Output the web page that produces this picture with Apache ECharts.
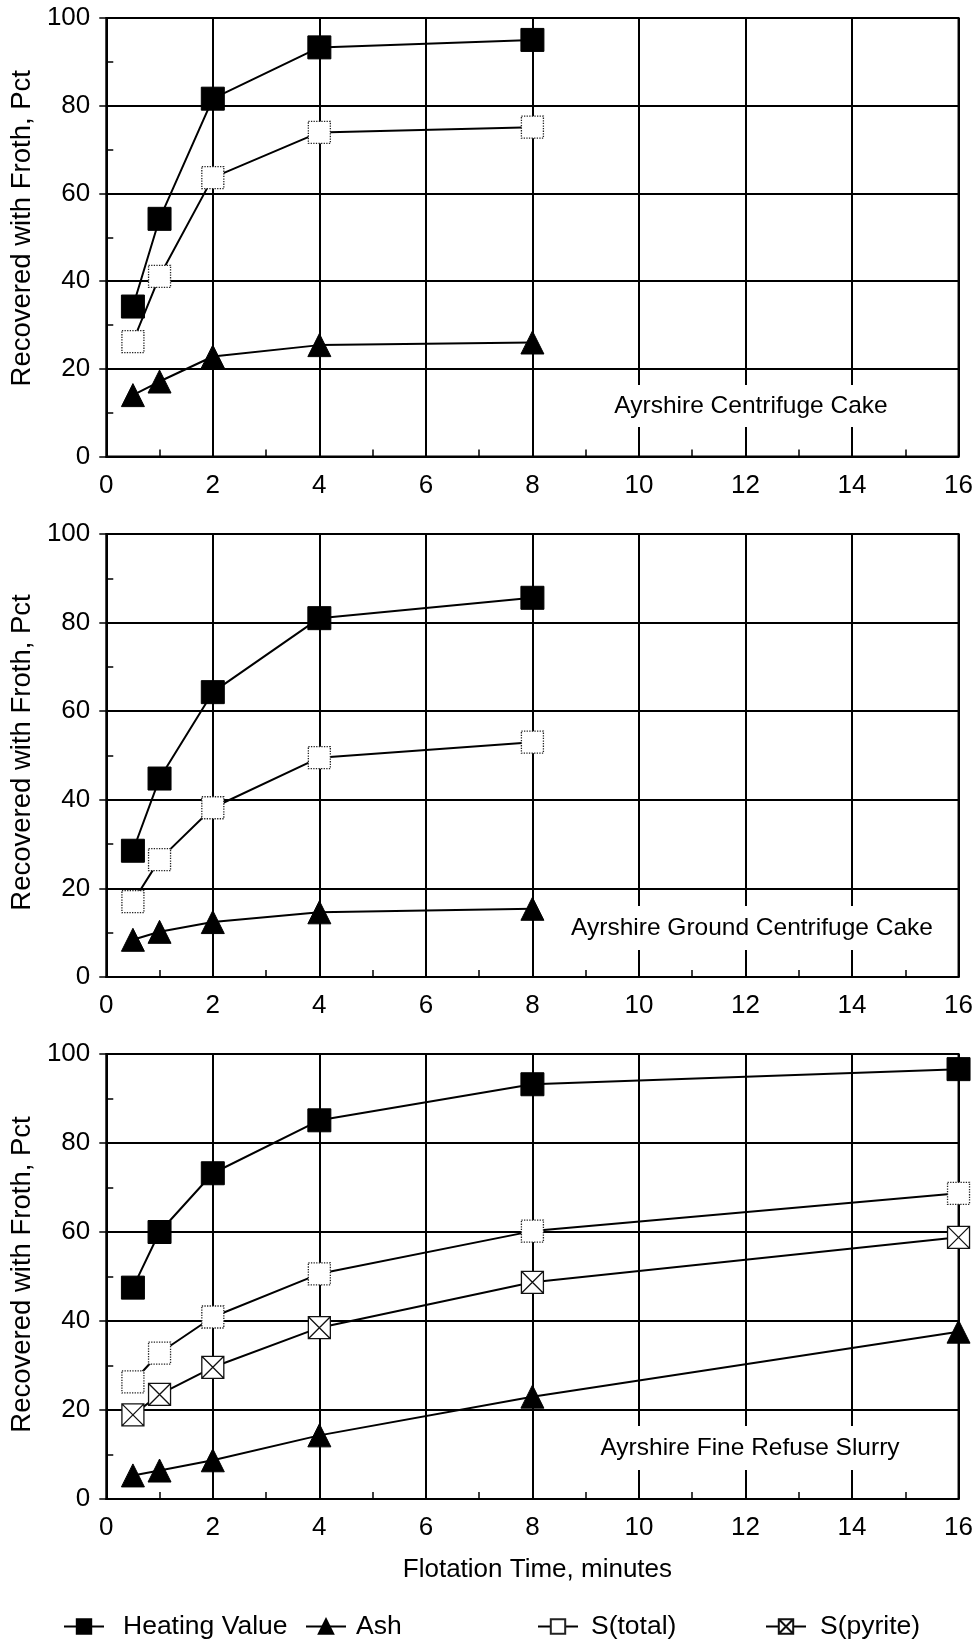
<!DOCTYPE html>
<html>
<head>
<meta charset="utf-8">
<script src="https://cdn.jsdelivr.net/npm/echarts@6/dist/echarts.min.js"></script>
<style>
html,body{margin:0;padding:0;background:#fff;}
#chart{width:976px;height:1642px;}
</style>
</head>
<body>
<div id="chart"></div>
<script>
// ---- data ----
const timesA = [0.5, 1, 2, 4, 8];
const timesB = [0.5, 1, 2, 4, 8, 16];
const xTicks = [0, 2, 4, 6, 8, 10, 12, 14, 16];
const yTicks = [0, 20, 40, 60, 80, 100];

const p1Heating = [34.2, 54.2, 81.6, 93.3, 95.0];
const p1Ash     = [14.0, 17.1, 22.8, 25.4, 26.0];
const p1STotal  = [26.2, 41.1, 63.6, 73.9, 75.1];

const p2Heating = [28.5, 44.8, 64.3, 81.0, 85.6];
const p2Ash     = [8.4, 10.2, 12.4, 14.6, 15.4];
const p2STotal  = [17.0, 26.5, 38.2, 49.5, 53.0];

const p3Heating = [47.5, 60.0, 73.2, 85.1, 93.2, 96.6];
const p3Ash     = [5.3, 6.4, 8.7, 14.3, 23.0, 37.6];
const p3STotal  = [26.3, 32.8, 40.9, 50.6, 60.2, 68.7];
const p3SPyrite = [18.9, 23.5, 29.6, 38.5, 48.7, 58.8];

const panelLabels = ['Ayrshire Centrifuge Cake', 'Ayrshire Ground Centrifuge Cake', 'Ayrshire Fine Refuse Slurry'];
const yTitle = 'Recovered with Froth, Pct';
const xTitle = 'Flotation Time, minutes';
const seriesNames = ['Heating Value', 'Ash', 'S(total)', 'S(pyrite)'];

// ---- styling ----
const FONT = 'Liberation Sans, Arial, sans-serif';
const pyritePath = 'path://M0,0 L10,0 L10,10 L0,10 Z M0,0 L10,10 M10,0 L0,10';
const styleFor = {
  'Heating Value': {symbol: 'rect', symbolSize: 23, itemStyle: {color: '#000', borderColor: '#000', borderWidth: 1}},
  'Ash': {symbol: 'triangle', symbolSize: 23, itemStyle: {color: '#000', borderColor: '#000', borderWidth: 1}},
  'S(total)': {symbol: 'rect', symbolSize: 22, itemStyle: {color: '#fff', borderColor: '#222', borderWidth: 1.3, borderType: 'dotted'}},
  'S(pyrite)': {symbol: pyritePath, symbolSize: 22, itemStyle: {color: '#fff', borderColor: '#111', borderWidth: 1.3}}
};

const grids = [
  {left: 102, right: 15, top: 18, height: 438.5, show: true, borderColor: '#000', borderWidth: 2},
  {left: 102, right: 15, top: 534, height: 443, show: true, borderColor: '#000', borderWidth: 2},
  {left: 102, right: 15, top: 1054, height: 445, show: true, borderColor: '#000', borderWidth: 2}
];

function xAxis(i) {
  return {
    type: 'value', gridIndex: i, min: xTicks[0], max: xTicks[xTicks.length - 1], interval: xTicks[1] - xTicks[0],
    axisLine: {show: true, lineStyle: {color: '#000', width: 2}},
    axisTick: {show: true, inside: true, length: 7, lineStyle: {color: '#000', width: 1.5}},
    minorTick: {show: true, splitNumber: 2, length: 7, lineStyle: {color: '#000', width: 1.5}},
    splitLine: {show: true, lineStyle: {color: '#000', width: 2}},
    axisLabel: {color: '#000', fontSize: 26, fontFamily: FONT, margin: 16},
    name: i === 2 ? xTitle : '', nameLocation: 'middle', nameGap: 58,
    nameTextStyle: {color: '#000', fontSize: 26, fontFamily: FONT, padding: [0, 0, 0, 10]}
  };
}
const yNamePad = [[0, 0, 0, 18], [0, 0, 0, 6], [0, 0, 0, 4]];
function yAxis(i) {
  return {
    type: 'value', gridIndex: i, min: yTicks[0], max: yTicks[yTicks.length - 1], interval: yTicks[1] - yTicks[0],
    axisLine: {show: true, lineStyle: {color: '#000', width: 2}},
    axisTick: {show: true, inside: false, length: 7, lineStyle: {color: '#000', width: 1.5}},
    minorTick: {show: true, splitNumber: 2, length: -7, lineStyle: {color: '#000', width: 1.5}},
    splitLine: {show: true, lineStyle: {color: '#000', width: 2}},
    axisLabel: {color: '#000', fontSize: 26, fontFamily: FONT, margin: 16},
    name: yTitle, nameLocation: 'middle', nameGap: 58,
    nameTextStyle: {color: '#000', fontSize: 27.5, fontFamily: FONT, padding: yNamePad[i]}
  };
}

function makeSeries(name, gi, xs, ys) {
  const st = styleFor[name];
  return Object.assign({
    type: 'line', name: name, xAxisIndex: gi, yAxisIndex: gi,
    data: xs.map((x, k) => [x, ys[k]]),
    lineStyle: {color: '#000', width: 2},
    showSymbol: true, animation: false, z: 3
  }, st);
}

const series = [
  makeSeries('S(total)', 0, timesA, p1STotal),
  makeSeries('Heating Value', 0, timesA, p1Heating),
  makeSeries('Ash', 0, timesA, p1Ash),
  makeSeries('S(total)', 1, timesA, p2STotal),
  makeSeries('Heating Value', 1, timesA, p2Heating),
  makeSeries('Ash', 1, timesA, p2Ash),
  makeSeries('S(total)', 2, timesB, p3STotal),
  makeSeries('S(pyrite)', 2, timesB, p3SPyrite),
  makeSeries('Heating Value', 2, timesB, p3Heating),
  makeSeries('Ash', 2, timesB, p3Ash)
];

const legendLeft = [58, 300, 532, 760];
const legendPad = [14, 5, 8, 9];
const legends = seriesNames.map((n, k) => ({
  data: [n], left: legendLeft[k], top: 1608, itemWidth: 40, itemHeight: 18,
  selectedMode: false,
  textStyle: {color: '#000', fontSize: 26.5, fontFamily: FONT, padding: [0, 0, 0, legendPad[k]]}
}));

const labelBoxes = [
  {cx: 751, cy: 406, w: 300, h: 42},
  {cx: 752, cy: 928, w: 385, h: 44},
  {cx: 750, cy: 1448, w: 330, h: 44}
];
const graphics = [];
panelLabels.forEach((t, k) => {
  const b = labelBoxes[k];
  graphics.push({type: 'rect', z: 5, shape: {x: b.cx - b.w / 2, y: b.cy - b.h / 2, width: b.w, height: b.h}, style: {fill: '#fff'}, silent: true});
  graphics.push({type: 'text', z: 6, x: b.cx, y: b.cy, style: {text: t, fill: '#000', font: '24.5px ' + FONT, align: 'center', verticalAlign: 'middle'}, silent: true});
});

const chart = echarts.init(document.getElementById('chart'), null, {renderer: 'canvas'});
chart.setOption({
  animation: false,
  backgroundColor: '#fff',
  legend: legends,
  grid: grids,
  xAxis: [0, 1, 2].map(xAxis),
  yAxis: [0, 1, 2].map(yAxis),
  series: series,
  graphic: graphics
});
</script>
</body>
</html>
